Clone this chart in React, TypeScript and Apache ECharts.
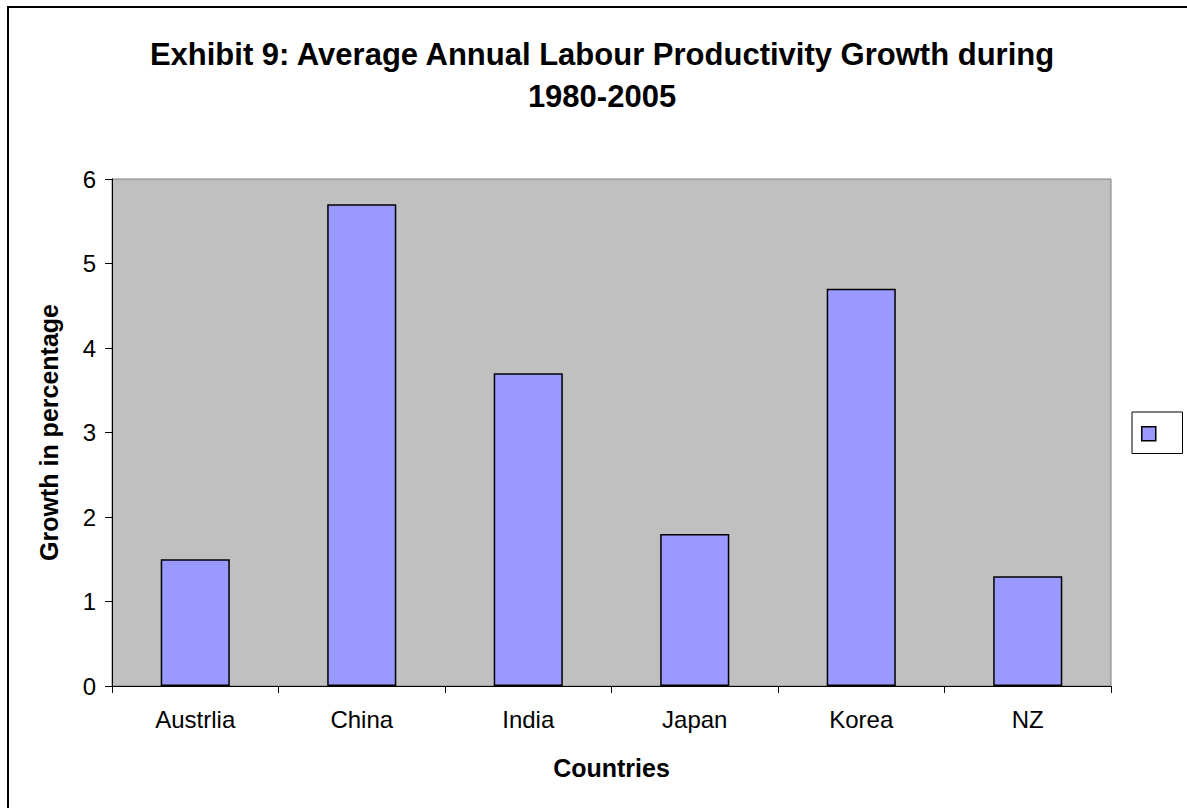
import React, { useEffect, useRef } from "react";
import * as echarts from "echarts";

const categories = ["Austrlia", "China", "India", "Japan", "Korea", "NZ"];
const growthValues = [1.5, 5.7, 3.7, 1.8, 4.7, 1.3];
const titleText = "Exhibit 9: Average Annual Labour Productivity Growth during\n1980-2005";
const yAxisName = "Growth in percentage";
const xAxisName = "Countries";
const seriesName = " ";

const FONT = "'Liberation Sans', Arial, sans-serif";

export default function App() {
  const ref = useRef<HTMLDivElement>(null);
  useEffect(() => {
    if (!ref.current) return;
    const chart = echarts.init(ref.current, null, { renderer: "svg" });
    chart.setOption({
      animation: false,
      backgroundColor: "#ffffff",
      textStyle: { fontFamily: FONT, color: "#000" },
      title: {
        text: titleText,
        left: 597,
        textAlign: "center",
        top: 28,
        textStyle: {
          fontFamily: FONT,
          fontSize: 31,
          fontWeight: "bold",
          color: "#000",
          lineHeight: 42,
        },
      },
      graphic: [
        {
          type: "rect",
          shape: { x: 8, y: 7, width: 1200, height: 820 },
          style: { fill: "none", stroke: "#000", lineWidth: 2 },
          silent: true,
          z: 100,
        },
      ],
      legend: {
        show: true,
        left: 1132,
        top: 412,
        orient: "vertical",
        data: [{ name: seriesName, icon: "rect" }],
        itemWidth: 14,
        itemHeight: 14,
        itemGap: 0,
        padding: [14, 26, 12, 9],
        backgroundColor: "#fff",
        borderColor: "#000",
        borderWidth: 1,
        borderRadius: 0,
        formatter: () => "",
        textStyle: { fontSize: 12 },
        itemStyle: { borderColor: "#000", borderWidth: 1.5 },
      },
      grid: {
        left: 112,
        right: 76,
        top: 179,
        bottom: 122,
        show: true,
        backgroundColor: "#C0C0C0",
        borderColor: "#808080",
        borderWidth: 1,
      },
      xAxis: {
        type: "category",
        data: categories,
        name: xAxisName,
        nameLocation: "middle",
        nameGap: 69,
        nameTextStyle: { fontFamily: FONT, fontSize: 25, fontWeight: "bold", color: "#000" },
        axisLine: { show: true, lineStyle: { color: "#000", width: 1 } },
        axisTick: { show: true, length: 7, inside: false, lineStyle: { color: "#000" } },
        axisLabel: { fontFamily: FONT, fontSize: 24, color: "#000", margin: 21 },
        splitLine: { show: false },
      },
      yAxis: {
        type: "value",
        min: 0,
        max: 6,
        interval: 1,
        name: yAxisName,
        nameLocation: "middle",
        nameGap: 51,
        nameTextStyle: { fontFamily: FONT, fontSize: 25, fontWeight: "bold", color: "#000" },
        axisLine: { show: true, lineStyle: { color: "#000", width: 1 } },
        axisTick: { show: true, length: 7, inside: false, lineStyle: { color: "#000" } },
        axisLabel: { fontFamily: FONT, fontSize: 24, color: "#000", margin: 16 },
        splitLine: { show: false },
      },
      series: [
        {
          name: seriesName,
          type: "bar",
          data: growthValues,
          barWidth: "41.5%",
          itemStyle: { color: "#9999FF", borderColor: "#000", borderWidth: 1.5 },
        },
      ],
    });
    return () => chart.dispose();
  }, []);
  return (
    <div
      ref={ref}
      style={{ position: "absolute", left: 0, top: 0, width: 1187, height: 808 }}
    />
  );
}
